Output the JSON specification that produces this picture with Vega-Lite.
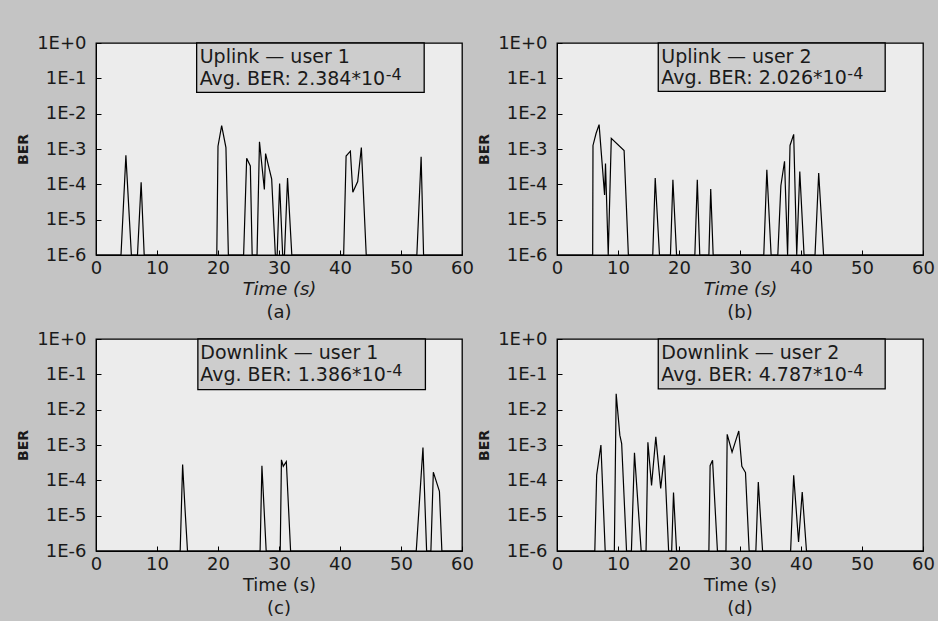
{
  "$schema": "https://vega.github.io/schema/vega-lite/v6.json",
  "background": "#c4c4c4",
  "padding": {"left": 15, "top": 33, "right": 2, "bottom": 2},
  "datasets": {
    "ber": [
      {"p":"a","t":0,"ber":1e-6},{"p":"a","t":4.1,"ber":1e-6},{"p":"a","t":4.9,"ber":6.6e-4},{"p":"a","t":5.8,"ber":1e-6},
      {"p":"a","t":6.8,"ber":1e-6},{"p":"a","t":7.4,"ber":1.15e-4},{"p":"a","t":7.9,"ber":1e-6},
      {"p":"a","t":19.8,"ber":1e-6},{"p":"a","t":20.0,"ber":1.2e-3},{"p":"a","t":20.6,"ber":4.6e-3},{"p":"a","t":21.3,"ber":1.1e-3},{"p":"a","t":21.7,"ber":1e-6},
      {"p":"a","t":24.2,"ber":1e-6},{"p":"a","t":24.7,"ber":5.5e-4},{"p":"a","t":25.3,"ber":3.3e-4},{"p":"a","t":25.6,"ber":1e-6},
      {"p":"a","t":26.4,"ber":1e-6},{"p":"a","t":26.8,"ber":1.6e-3},{"p":"a","t":27.6,"ber":7.2e-5},{"p":"a","t":27.8,"ber":7.4e-4},{"p":"a","t":28.8,"ber":1.4e-4},{"p":"a","t":29.4,"ber":1e-6},
      {"p":"a","t":29.7,"ber":1e-6},{"p":"a","t":30.1,"ber":1.05e-4},{"p":"a","t":30.6,"ber":1e-6},
      {"p":"a","t":30.9,"ber":1e-6},{"p":"a","t":31.4,"ber":1.5e-4},{"p":"a","t":32.1,"ber":1e-6},
      {"p":"a","t":40.6,"ber":1e-6},{"p":"a","t":41.0,"ber":6.3e-4},{"p":"a","t":41.7,"ber":8.7e-4},{"p":"a","t":42.1,"ber":6e-5},{"p":"a","t":42.9,"ber":1.2e-4},{"p":"a","t":43.5,"ber":1.1e-3},{"p":"a","t":44.3,"ber":1e-6},
      {"p":"a","t":52.6,"ber":1e-6},{"p":"a","t":53.3,"ber":6e-4},{"p":"a","t":53.7,"ber":1e-6},{"p":"a","t":60,"ber":1e-6},

      {"p":"b","t":0,"ber":1e-6},{"p":"b","t":5.85,"ber":1e-6},{"p":"b","t":5.9,"ber":1.26e-3},{"p":"b","t":6.4,"ber":2.75e-3},{"p":"b","t":6.9,"ber":4.9e-3},{"p":"b","t":7.8,"ber":5e-5},{"p":"b","t":7.95,"ber":3.9e-4},{"p":"b","t":8.4,"ber":1e-6},
      {"p":"b","t":8.9,"ber":2.0e-3},{"p":"b","t":11.0,"ber":9.1e-4},{"p":"b","t":11.7,"ber":1e-6},
      {"p":"b","t":15.7,"ber":1e-6},{"p":"b","t":16.1,"ber":1.5e-4},{"p":"b","t":16.8,"ber":1e-6},
      {"p":"b","t":18.6,"ber":1e-6},{"p":"b","t":19.0,"ber":1.35e-4},{"p":"b","t":19.6,"ber":1e-6},
      {"p":"b","t":22.6,"ber":1e-6},{"p":"b","t":23.0,"ber":1.35e-4},{"p":"b","t":23.4,"ber":1e-6},
      {"p":"b","t":24.9,"ber":1e-6},{"p":"b","t":25.2,"ber":7.4e-5},{"p":"b","t":25.6,"ber":1e-6},
      {"p":"b","t":33.9,"ber":1e-6},{"p":"b","t":34.4,"ber":2.6e-4},{"p":"b","t":35.1,"ber":1e-6},
      {"p":"b","t":36.2,"ber":1e-6},{"p":"b","t":36.7,"ber":9.1e-5},{"p":"b","t":37.3,"ber":4.5e-4},{"p":"b","t":37.8,"ber":1e-6},
      {"p":"b","t":38.2,"ber":1.26e-3},{"p":"b","t":38.8,"ber":2.6e-3},{"p":"b","t":39.3,"ber":1e-6},
      {"p":"b","t":39.8,"ber":2.3e-4},{"p":"b","t":40.5,"ber":1e-6},
      {"p":"b","t":42.3,"ber":1e-6},{"p":"b","t":42.9,"ber":2.1e-4},{"p":"b","t":43.7,"ber":1e-6},{"p":"b","t":60,"ber":1e-6},

      {"p":"c","t":0,"ber":1e-6},{"p":"c","t":13.8,"ber":1e-6},{"p":"c","t":14.2,"ber":2.8e-4},{"p":"c","t":14.6,"ber":1.5e-5},{"p":"c","t":15.0,"ber":1e-6},
      {"p":"c","t":26.9,"ber":1e-6},{"p":"c","t":27.2,"ber":2.6e-4},{"p":"c","t":27.9,"ber":1e-6},
      {"p":"c","t":30.2,"ber":1e-6},{"p":"c","t":30.4,"ber":3.8e-4},{"p":"c","t":30.7,"ber":2.5e-4},{"p":"c","t":31.2,"ber":3.4e-4},{"p":"c","t":31.9,"ber":1e-6},
      {"p":"c","t":52.5,"ber":1e-6},{"p":"c","t":53.6,"ber":8.5e-4},{"p":"c","t":54.2,"ber":1e-6},
      {"p":"c","t":54.9,"ber":1e-6},{"p":"c","t":55.3,"ber":1.7e-4},{"p":"c","t":56.3,"ber":4.9e-5},{"p":"c","t":56.7,"ber":1e-6},{"p":"c","t":60,"ber":1e-6},

      {"p":"d","t":0,"ber":1e-6},{"p":"d","t":6.2,"ber":1e-6},{"p":"d","t":6.5,"ber":1.4e-4},{"p":"d","t":7.2,"ber":1.0e-3},{"p":"d","t":7.9,"ber":1e-6},
      {"p":"d","t":9.4,"ber":1e-6},{"p":"d","t":9.7,"ber":2.8e-2},{"p":"d","t":10.3,"ber":1.9e-3},{"p":"d","t":10.6,"ber":1.1e-3},{"p":"d","t":11.4,"ber":1e-6},
      {"p":"d","t":12.2,"ber":1e-6},{"p":"d","t":12.7,"ber":6e-4},{"p":"d","t":13.8,"ber":1e-6},
      {"p":"d","t":14.6,"ber":1e-6},{"p":"d","t":14.9,"ber":1.2e-3},{"p":"d","t":15.5,"ber":7.2e-5},{"p":"d","t":16.2,"ber":1.7e-3},{"p":"d","t":17.0,"ber":5.9e-5},{"p":"d","t":17.6,"ber":5.1e-4},{"p":"d","t":18.3,"ber":1e-6},
      {"p":"d","t":18.8,"ber":1e-6},{"p":"d","t":19.1,"ber":4.5e-5},{"p":"d","t":19.6,"ber":1e-6},
      {"p":"d","t":24.9,"ber":1e-6},{"p":"d","t":25.1,"ber":2.6e-4},{"p":"d","t":25.5,"ber":3.7e-4},{"p":"d","t":26.3,"ber":1e-6},
      {"p":"d","t":27.7,"ber":1e-6},{"p":"d","t":27.9,"ber":2.0e-3},{"p":"d","t":28.7,"ber":6.3e-4},{"p":"d","t":29.8,"ber":2.5e-3},{"p":"d","t":30.3,"ber":2.5e-4},{"p":"d","t":30.9,"ber":1.66e-4},{"p":"d","t":31.5,"ber":1e-6},
      {"p":"d","t":32.6,"ber":1e-6},{"p":"d","t":33.0,"ber":8.9e-5},{"p":"d","t":33.7,"ber":1e-6},
      {"p":"d","t":38.3,"ber":1e-6},{"p":"d","t":38.8,"ber":1.4e-4},{"p":"d","t":39.6,"ber":1.8e-6},{"p":"d","t":40.2,"ber":4.7e-5},{"p":"d","t":40.9,"ber":1e-6},{"p":"d","t":60,"ber":1e-6}
    ]
  },
  "config": {
    "font": "DejaVu Sans",
    "view": {"stroke": "black", "strokeWidth": 1.3, "fill": "#ececec"},
    "axis": {
      "grid": false, "domainColor": "black", "tickColor": "black", "labelColor": "#1a1a1a", "titleColor": "#1a1a1a",
      "labelFontSize": 18, "titleFontWeight": "normal", "tickSize": -5, "labelFlush": false
    },
    "axisX": {"labelPadding": 9, "titleFontSize": 18, "titlePadding": 3},
    "axisY": {"labelPadding": 15, "titleFontSize": 14, "titleFontWeight": "bold", "titlePadding": 6},
    "text": {"font": "DejaVu Sans", "color": "#1a1a1a", "align": "left", "baseline": "alphabetic"},
    "title": {"fontSize": 18, "fontWeight": "normal", "color": "#1a1a1a", "offset": 6}
  },
  "spacing": 6,
  "vconcat": [
    {"spacing": 1, "hconcat": [
      {"width": 366, "height": 212, "title": {"text": "(a)", "orient": "bottom"},
       "layer": [
        {"data": {"name": "ber"}, "transform": [{"filter": "datum.p === 'a'"}],
         "mark": {"type": "line", "color": "black", "strokeWidth": 0},
         "encoding": {
          "x": {"field": "t", "type": "quantitative", "scale": {"domain": [0, 60], "nice": false}, "axis": {"title": "Time (s)", "titleFontStyle": "italic", "values": [0,10,20,30,40,50,60]}},
          "y": {"field": "ber", "type": "quantitative", "scale": {"type": "log", "domain": [1e-6, 1], "nice": false}, "axis": {"title": "BER", "values": [1e-6,1e-5,1e-4,1e-3,1e-2,1e-1,1], "labelExpr": "datum.value > 0.5 ? '1E+0' : '1E' + round(log(datum.value)/LN10)"}}}},
        {"data": {"values": [{}]}, "mark": {"type": "rect", "fill": "#cdcdcd", "stroke": "black", "strokeWidth": 1.3},
         "encoding": {"x": {"datum": 16.5}, "x2": {"datum": 53.8}, "y": {"datum": 1}, "y2": {"datum": 0.04}}},
        {"data": {"values": [{}]}, "mark": {"type": "text", "text": "Uplink — user 1", "fontSize": 19},
         "encoding": {"x": {"datum": 17}, "y": {"datum": 0.27}}},
        {"data": {"values": [{}]}, "mark": {"type": "text", "text": "Avg. BER: 2.384*10", "fontSize": 19},
         "encoding": {"x": {"datum": 17}, "y": {"datum": 0.066}}},
        {"data": {"values": [{}]}, "mark": {"type": "text", "text": "-4", "fontSize": 16},
         "encoding": {"x": {"datum": 47.5}, "y": {"datum": 0.09}}},
        {"data": {"name": "ber"}, "transform": [{"filter": "datum.p === 'a'"}],
         "mark": {"type": "line", "color": "black", "strokeWidth": 1.2},
         "encoding": {"x": {"field": "t", "type": "quantitative"}, "y": {"field": "ber", "type": "quantitative"}}}
       ]},
      {"width": 366, "height": 212, "title": {"text": "(b)", "orient": "bottom"},
       "layer": [
        {"data": {"name": "ber"}, "transform": [{"filter": "datum.p === 'b'"}],
         "mark": {"type": "line", "color": "black", "strokeWidth": 0},
         "encoding": {
          "x": {"field": "t", "type": "quantitative", "scale": {"domain": [0, 60], "nice": false}, "axis": {"title": "Time (s)", "titleFontStyle": "italic", "values": [0,10,20,30,40,50,60]}},
          "y": {"field": "ber", "type": "quantitative", "scale": {"type": "log", "domain": [1e-6, 1], "nice": false}, "axis": {"title": "BER", "values": [1e-6,1e-5,1e-4,1e-3,1e-2,1e-1,1], "labelExpr": "datum.value > 0.5 ? '1E+0' : '1E' + round(log(datum.value)/LN10)"}}}},
        {"data": {"values": [{}]}, "mark": {"type": "rect", "fill": "#cdcdcd", "stroke": "black", "strokeWidth": 1.3},
         "encoding": {"x": {"datum": 16.6}, "x2": {"datum": 53.8}, "y": {"datum": 1}, "y2": {"datum": 0.043}}},
        {"data": {"values": [{}]}, "mark": {"type": "text", "text": "Uplink — user 2", "fontSize": 19},
         "encoding": {"x": {"datum": 17.1}, "y": {"datum": 0.27}}},
        {"data": {"values": [{}]}, "mark": {"type": "text", "text": "Avg. BER: 2.026*10", "fontSize": 19},
         "encoding": {"x": {"datum": 17.1}, "y": {"datum": 0.07}}},
        {"data": {"values": [{}]}, "mark": {"type": "text", "text": "-4", "fontSize": 16},
         "encoding": {"x": {"datum": 47.6}, "y": {"datum": 0.095}}},
        {"data": {"name": "ber"}, "transform": [{"filter": "datum.p === 'b'"}],
         "mark": {"type": "line", "color": "black", "strokeWidth": 1.2},
         "encoding": {"x": {"field": "t", "type": "quantitative"}, "y": {"field": "ber", "type": "quantitative"}}}
       ]}
    ]},
    {"spacing": 1, "hconcat": [
      {"width": 366, "height": 212, "title": {"text": "(c)", "orient": "bottom"},
       "layer": [
        {"data": {"name": "ber"}, "transform": [{"filter": "datum.p === 'c'"}],
         "mark": {"type": "line", "color": "black", "strokeWidth": 0},
         "encoding": {
          "x": {"field": "t", "type": "quantitative", "scale": {"domain": [0, 60], "nice": false}, "axis": {"title": "Time (s)", "values": [0,10,20,30,40,50,60]}},
          "y": {"field": "ber", "type": "quantitative", "scale": {"type": "log", "domain": [1e-6, 1], "nice": false}, "axis": {"title": "BER", "values": [1e-6,1e-5,1e-4,1e-3,1e-2,1e-1,1], "labelExpr": "datum.value > 0.5 ? '1E+0' : '1E' + round(log(datum.value)/LN10)"}}}},
        {"data": {"values": [{}]}, "mark": {"type": "rect", "fill": "#cdcdcd", "stroke": "black", "strokeWidth": 1.3},
         "encoding": {"x": {"datum": 16.7}, "x2": {"datum": 54.0}, "y": {"datum": 1}, "y2": {"datum": 0.037}}},
        {"data": {"values": [{}]}, "mark": {"type": "text", "text": "Downlink — user 1", "fontSize": 19},
         "encoding": {"x": {"datum": 17.1}, "y": {"datum": 0.27}}},
        {"data": {"values": [{}]}, "mark": {"type": "text", "text": "Avg. BER: 1.386*10", "fontSize": 19},
         "encoding": {"x": {"datum": 17.1}, "y": {"datum": 0.066}}},
        {"data": {"values": [{}]}, "mark": {"type": "text", "text": "-4", "fontSize": 16},
         "encoding": {"x": {"datum": 47.6}, "y": {"datum": 0.09}}},
        {"data": {"name": "ber"}, "transform": [{"filter": "datum.p === 'c'"}],
         "mark": {"type": "line", "color": "black", "strokeWidth": 1.2},
         "encoding": {"x": {"field": "t", "type": "quantitative"}, "y": {"field": "ber", "type": "quantitative"}}}
       ]},
      {"width": 366, "height": 212, "title": {"text": "(d)", "orient": "bottom"},
       "layer": [
        {"data": {"name": "ber"}, "transform": [{"filter": "datum.p === 'd'"}],
         "mark": {"type": "line", "color": "black", "strokeWidth": 0},
         "encoding": {
          "x": {"field": "t", "type": "quantitative", "scale": {"domain": [0, 60], "nice": false}, "axis": {"title": "Time (s)", "values": [0,10,20,30,40,50,60]}},
          "y": {"field": "ber", "type": "quantitative", "scale": {"type": "log", "domain": [1e-6, 1], "nice": false}, "axis": {"title": "BER", "values": [1e-6,1e-5,1e-4,1e-3,1e-2,1e-1,1], "labelExpr": "datum.value > 0.5 ? '1E+0' : '1E' + round(log(datum.value)/LN10)"}}}},
        {"data": {"values": [{}]}, "mark": {"type": "rect", "fill": "#cdcdcd", "stroke": "black", "strokeWidth": 1.3},
         "encoding": {"x": {"datum": 16.6}, "x2": {"datum": 53.8}, "y": {"datum": 1}, "y2": {"datum": 0.039}}},
        {"data": {"values": [{}]}, "mark": {"type": "text", "text": "Downlink — user 2", "fontSize": 19},
         "encoding": {"x": {"datum": 17.1}, "y": {"datum": 0.27}}},
        {"data": {"values": [{}]}, "mark": {"type": "text", "text": "Avg. BER: 4.787*10", "fontSize": 19},
         "encoding": {"x": {"datum": 17.1}, "y": {"datum": 0.066}}},
        {"data": {"values": [{}]}, "mark": {"type": "text", "text": "-4", "fontSize": 16},
         "encoding": {"x": {"datum": 47.6}, "y": {"datum": 0.09}}},
        {"data": {"name": "ber"}, "transform": [{"filter": "datum.p === 'd'"}],
         "mark": {"type": "line", "color": "black", "strokeWidth": 1.2},
         "encoding": {"x": {"field": "t", "type": "quantitative"}, "y": {"field": "ber", "type": "quantitative"}}}
       ]}
    ]}
  ]
}
